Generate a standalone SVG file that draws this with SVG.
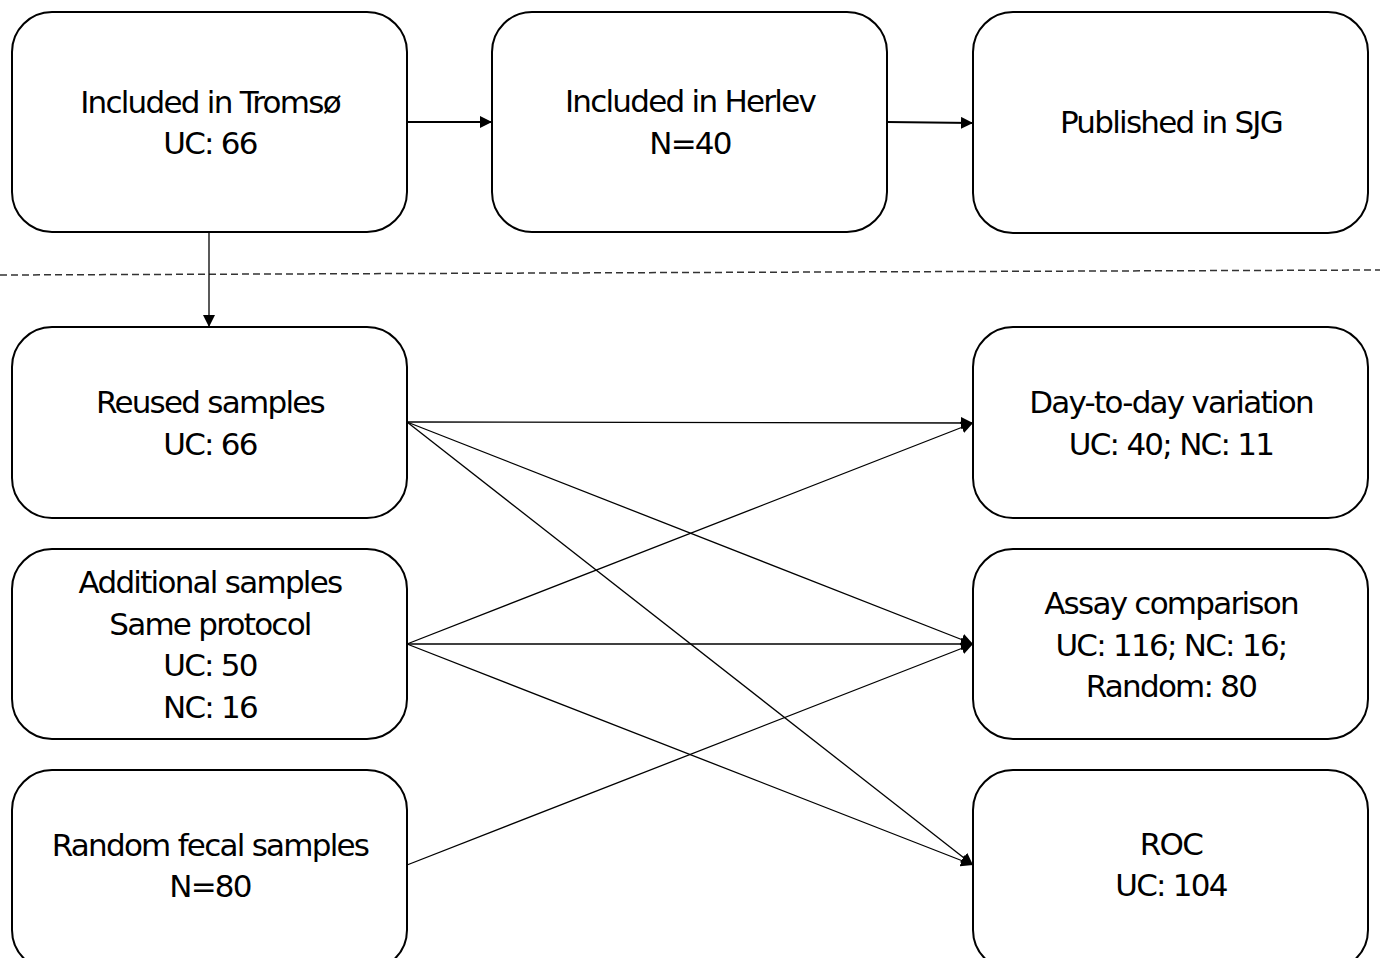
<svg xmlns="http://www.w3.org/2000/svg" width="1380" height="958" viewBox="0 0 1380 958">
<style>
.box{fill:#fff;stroke:#000;stroke-width:2}
.t{font-family:"DejaVu Sans",sans-serif;font-size:31px;letter-spacing:-1.75px;text-anchor:middle;fill:#000}
.c{stroke:#000;stroke-width:1.3;fill:none}
.c2{stroke:#000;stroke-width:2;fill:none}
</style>
<defs>
<marker id="ah2" markerWidth="12" markerHeight="12" refX="12" refY="6" orient="auto" markerUnits="userSpaceOnUse"><path d="M0,0 L12,6 L0,12 Z" fill="#000"/></marker>
</defs>
<rect width="1380" height="958" fill="#fff"/>
<line x1="0" y1="275" x2="1380" y2="270" stroke="#333" stroke-width="1.5" stroke-dasharray="7,4"/>
<g id="connectors">
<line class="c2" x1="407" y1="122" x2="492" y2="122" marker-end="url(#ah2)"/>
<line class="c2" x1="887" y1="122" x2="973" y2="123" marker-end="url(#ah2)"/>
<line class="c" x1="209" y1="232" x2="209" y2="327" marker-end="url(#ah2)"/>
<line class="c" x1="407" y1="422" x2="973" y2="423" marker-end="url(#ah2)"/>
<line class="c" x1="407" y1="422" x2="973" y2="644" marker-end="url(#ah2)"/>
<line class="c" x1="407" y1="422" x2="973" y2="865" marker-end="url(#ah2)"/>
<line class="c" x1="407" y1="644" x2="973" y2="423" marker-end="url(#ah2)"/>
<line class="c" x1="407" y1="644" x2="973" y2="644" marker-end="url(#ah2)"/>
<line class="c" x1="407" y1="644" x2="973" y2="865" marker-end="url(#ah2)"/>
<line class="c" x1="407" y1="865" x2="973" y2="644" marker-end="url(#ah2)"/>
</g>
<g id="tromso"><rect class="box" x="12" y="12" width="395" height="220" rx="40"/><text class="t" x="210" y="113">Included in Tromsø</text><text class="t" x="210" y="154">UC: 66</text></g>
<g id="herlev"><rect class="box" x="492" y="12" width="395" height="220" rx="40"/><text class="t" x="690" y="112">Included in Herlev</text><text class="t" x="690" y="154">N=40</text></g>
<g id="sjg"><rect class="box" x="973" y="12" width="395" height="221" rx="40"/><text class="t" x="1171" y="133">Published in SJG</text></g>
<g id="reused"><rect class="box" x="12" y="327" width="395" height="191" rx="40"/><text class="t" x="210" y="413">Reused samples</text><text class="t" x="210" y="455">UC: 66</text></g>
<g id="additional"><rect class="box" x="12" y="549" width="395" height="190" rx="40"/><text class="t" x="210" y="593">Additional samples</text><text class="t" x="210" y="635">Same protocol</text><text class="t" x="210" y="676">UC: 50</text><text class="t" x="210" y="718">NC: 16</text></g>
<g id="random"><rect class="box" x="12" y="770" width="395" height="200" rx="40"/><text class="t" x="210" y="856">Random fecal samples</text><text class="t" x="210" y="897">N=80</text></g>
<g id="daytoday"><rect class="box" x="973" y="327" width="395" height="191" rx="40"/><text class="t" x="1171" y="413">Day-to-day variation</text><text class="t" x="1171" y="455">UC: 40; NC: 11</text></g>
<g id="assay"><rect class="box" x="973" y="549" width="395" height="190" rx="40"/><text class="t" x="1171" y="614">Assay comparison</text><text class="t" x="1171" y="656">UC: 116; NC: 16;</text><text class="t" x="1171" y="697">Random: 80</text></g>
<g id="roc"><rect class="box" x="973" y="770" width="395" height="200" rx="40"/><text class="t" x="1171" y="855">ROC</text><text class="t" x="1171" y="896">UC: 104</text></g>
</svg>
